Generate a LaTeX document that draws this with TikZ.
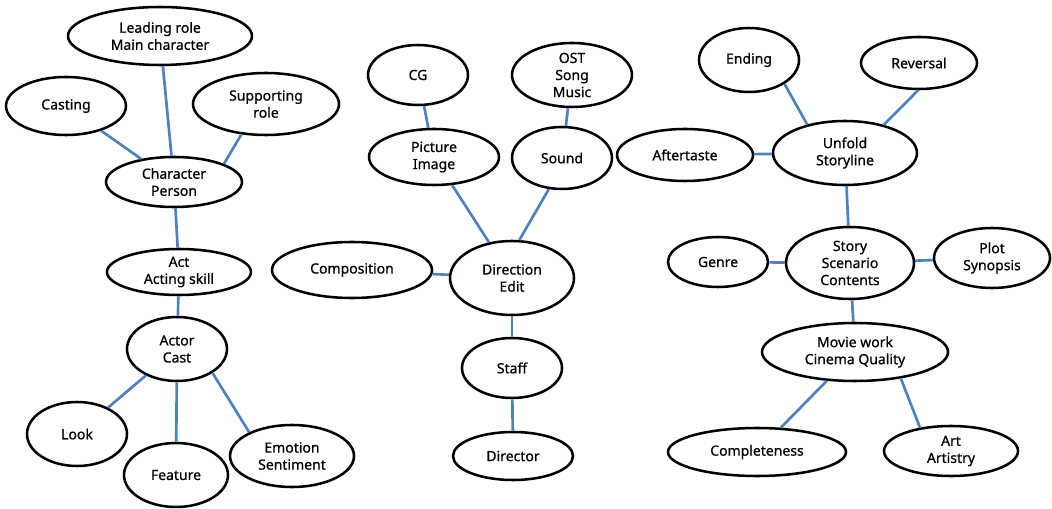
\documentclass[tikz,border=0pt]{standalone}
\usepackage{fontspec}
\setmainfont{Noto Sans}
\newfontfamily\bubfont{Noto Sans}[FakeBold=0.7]
\usepackage{xcolor}
\usepackage{tikz}
\usetikzlibrary{shapes.geometric}

\definecolor{linkblue}{RGB}{79,129,189}
\tikzset{
  bub/.style={ellipse, draw=black, line width=1.9pt, inner sep=0pt, align=center,
    font=\bubfont\fontsize{10.5}{12.8}\selectfont},
  link/.style={draw=linkblue, line width=2pt}
}

\begin{document}
\begin{tikzpicture}[x=0.75pt,y=-0.75pt]
\useasboundingbox (0,0) rectangle (1052,509);
% character / actor cluster
\node[bub, minimum width=138pt, minimum height=43.5pt] (lead) at (160,36) {Leading role\\Main character};
\node[bub, minimum width=90pt, minimum height=43.5pt] (casting) at (66,106) {Casting};
\node[bub, minimum width=109.5pt, minimum height=46.5pt] (supp) at (266,104) {Supporting\\role};
\node[bub, minimum width=102pt, minimum height=37.5pt] (charp) at (174,182) {Character\\Person};
\node[bub, minimum width=108pt, minimum height=34.5pt] (act) at (179,272) {Act\\Acting skill};
\node[bub, minimum width=75pt, minimum height=48pt] (actor) at (177,349) {Actor\\Cast};
\node[bub, minimum width=75pt, minimum height=48pt] (look) at (77,434) {Look};
\node[bub, minimum width=78pt, minimum height=48pt] (feat) at (176,475) {Feature};
\node[bub, minimum width=93pt, minimum height=46.5pt] (emo) at (292,456) {Emotion\\Sentiment};
% direction cluster
\node[bub, minimum width=75pt, minimum height=45pt] (cg) at (418,75) {CG};
\node[bub, minimum width=90pt, minimum height=48pt] (ost) at (572,75) {OST\\Song\\Music};
\node[bub, minimum width=97.5pt, minimum height=42pt] (pic) at (434,157) {Picture\\Image};
\node[bub, minimum width=75pt, minimum height=46.5pt] (sound) at (562,158) {Sound};
\node[bub, minimum width=120pt, minimum height=42pt] (compo) at (352,270) {Composition};
\node[bub, minimum width=93pt, minimum height=55.5pt] (dir) at (512,278) {Direction\\Edit};
\node[bub, minimum width=75pt, minimum height=45pt] (staff) at (512,368) {Staff};
\node[bub, minimum width=90pt, minimum height=36pt] (director) at (513,456) {Director};
% story cluster
\node[bub, minimum width=75pt, minimum height=48pt] (ending) at (749,60) {Ending};
\node[bub, minimum width=87pt, minimum height=39pt] (rev) at (919,63) {Reversal};
\node[bub, minimum width=102pt, minimum height=39pt] (after) at (685,155) {Aftertaste};
\node[bub, minimum width=108pt, minimum height=48pt] (unfold) at (845,153) {Unfold\\Storyline};
\node[bub, minimum width=75pt, minimum height=37.5pt] (genre) at (718,262) {Genre};
\node[bub, minimum width=96pt, minimum height=54pt] (story) at (850,263) {Story\\Scenario\\Contents};
\node[bub, minimum width=87pt, minimum height=45pt] (plot) at (992,258) {Plot\\Synopsis};
\node[bub, minimum width=139.5pt, minimum height=43.5pt] (movie) at (855,352) {Movie work\\Cinema Quality};
\node[bub, minimum width=133.5pt, minimum height=36pt] (compl) at (757,452) {Completeness};
\node[bub, minimum width=100.5pt, minimum height=37.5pt] (art) at (951,451) {Art\\Artistry};
% links
\draw[link] (lead) -- (charp);
\draw[link] (casting) -- (charp);
\draw[link] (supp.-129) -- (charp.20);
\draw[link] (charp) -- (act);
\draw[link] (act) -- (actor);
\draw[link] (actor) -- (look);
\draw[link] (actor) -- (feat);
\draw[link] (actor.-34) -- (emo.151);
\draw[link] (cg) -- (pic);
\draw[link] (ost) -- (sound);
\draw[link] (pic) -- (dir);
\draw[link] (sound.-113) -- (dir.79);
\draw[link] (compo) -- (dir);
\draw[link] (dir) -- (staff);
\draw[link] (staff) -- (director);
\draw[link] (ending.-34) -- (unfold.143);
\draw[link] (rev.-92) -- (unfold.36);
\draw[link] (after) -- (unfold);
\draw[link] (unfold) -- (story);
\draw[link] (genre) -- (story);
\draw[link] (story) -- (plot);
\draw[link] (story) -- (movie);
\draw[link] (movie) -- (compl);
\draw[link] (movie.-30) -- (art.143);
\end{tikzpicture}
\end{document}
